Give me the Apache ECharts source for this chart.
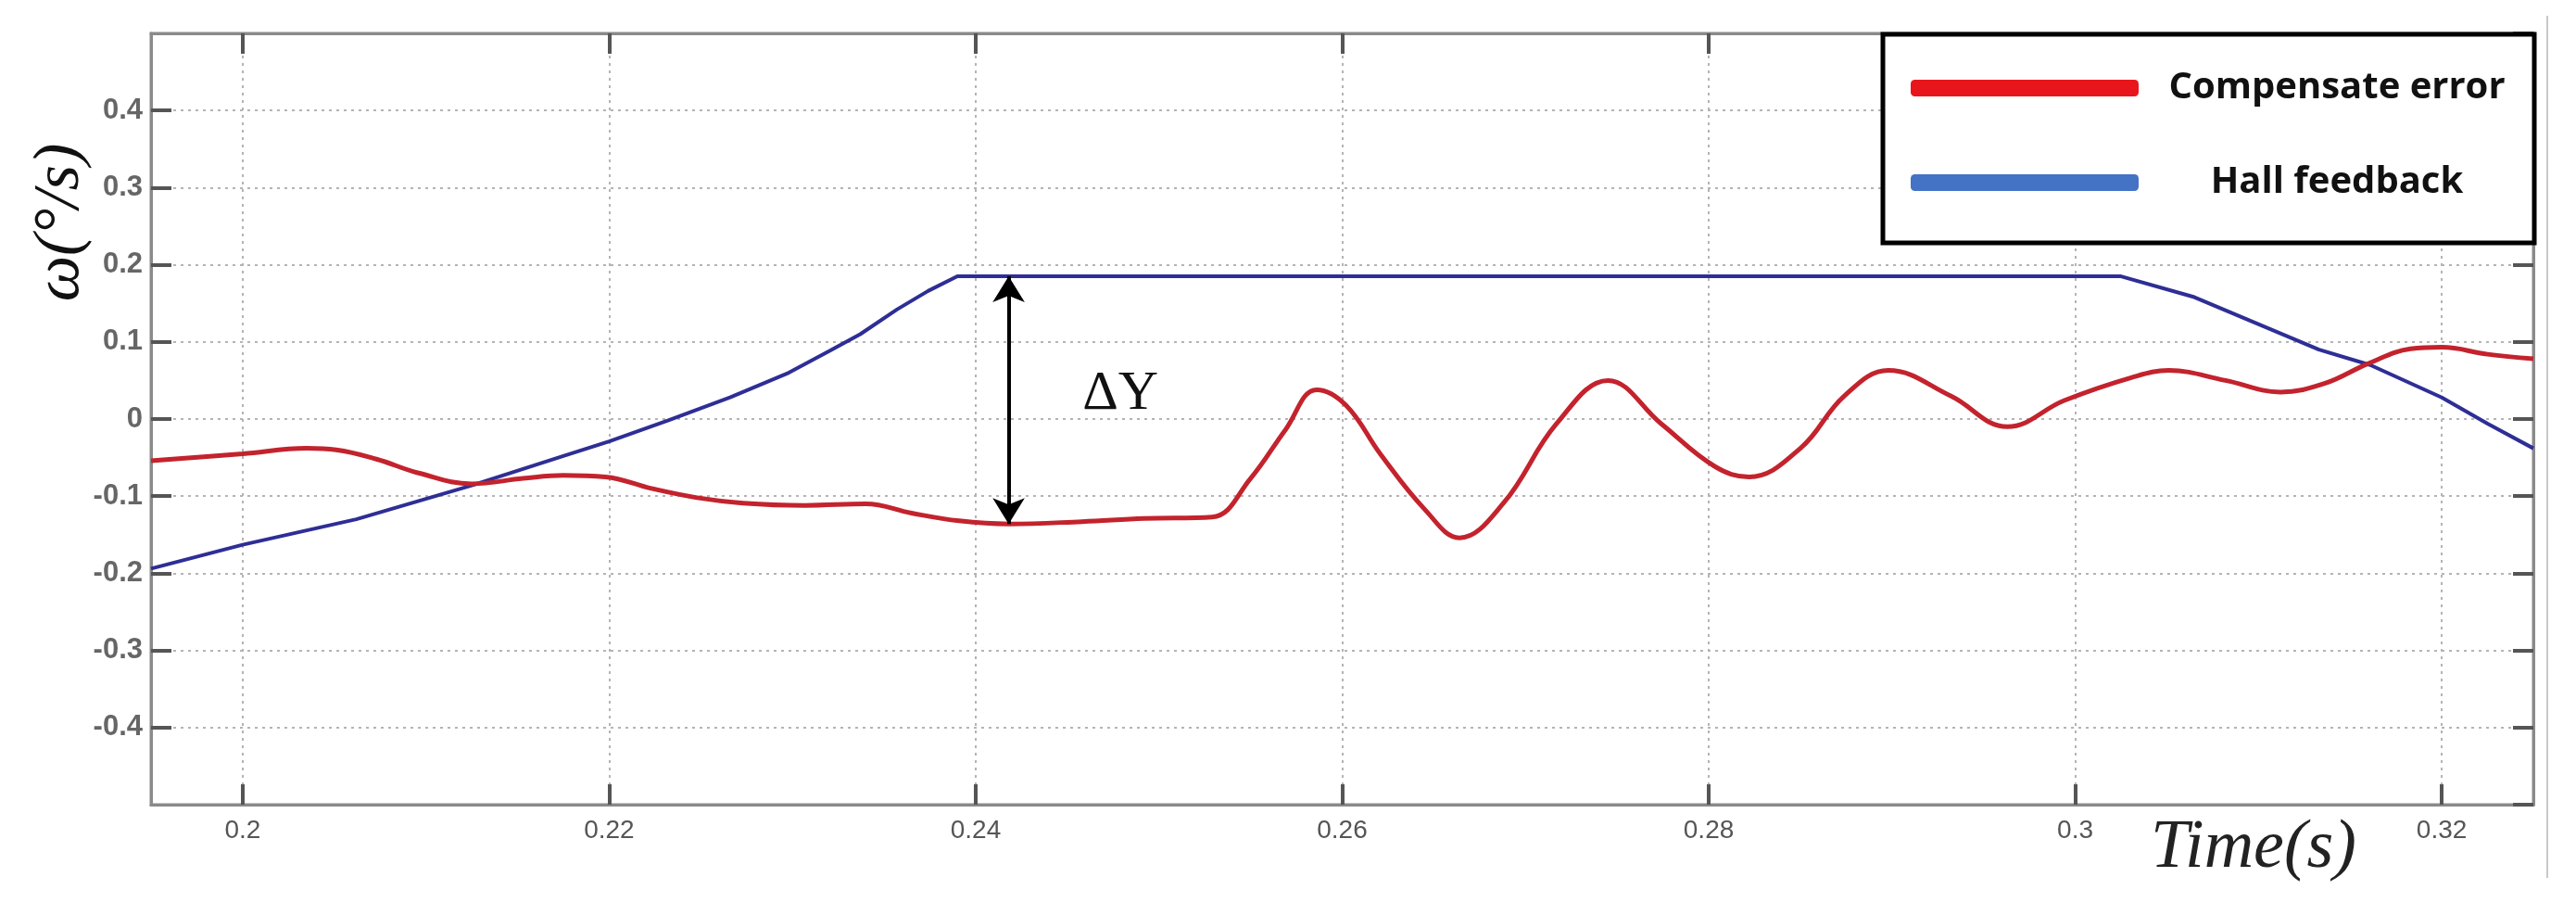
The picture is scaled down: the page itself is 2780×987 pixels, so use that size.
<!DOCTYPE html>
<html>
<head>
<meta charset="utf-8">
<script src="https://cdn.jsdelivr.net/npm/echarts@6/dist/echarts.min.js"></script>
<style>
html,body{margin:0;padding:0;background:#fff;}
#chart{width:2780px;height:987px;}
</style>
</head>
<body>
<div id="chart"></div>
<script>
// ---- data ----
const xTicks = [0.2, 0.22, 0.24, 0.26, 0.28, 0.3, 0.32];

const errT = [0.195, 0.2, 0.2035, 0.2051, 0.2073, 0.2096, 0.2125, 0.2153, 0.2175, 0.2198, 0.2223, 0.2248, 0.2273, 0.2307, 0.234, 0.2365, 0.2391, 0.2418, 0.2458, 0.2492, 0.2529, 0.255, 0.2569, 0.2586, 0.2602, 0.2621, 0.2645, 0.2664, 0.2688, 0.2717, 0.2745, 0.2774, 0.2803, 0.2822, 0.285, 0.2874, 0.2898, 0.2932, 0.2963, 0.2994, 0.3031, 0.3051, 0.3082, 0.3112, 0.3136, 0.316, 0.3183, 0.32, 0.3225, 0.325];
const errV = [-0.054, -0.045, -0.038, -0.04, -0.052, -0.07, -0.084, -0.077, -0.073, -0.075, -0.09, -0.102, -0.109, -0.112, -0.11, -0.122, -0.132, -0.136, -0.133, -0.129, -0.127, -0.077, -0.014, 0.038, 0.018, -0.046, -0.117, -0.154, -0.109, -0.006, 0.05, -0.006, -0.061, -0.075, -0.038, 0.03, 0.063, 0.03, -0.01, 0.024, 0.054, 0.063, 0.05, 0.035, 0.046, 0.072, 0.091, 0.093, 0.084, 0.078];

const hallT = [0.195, 0.2, 0.2062, 0.2125, 0.2175, 0.22, 0.2232, 0.2266, 0.2298, 0.232, 0.2337, 0.2357, 0.2374, 0.239, 0.3025, 0.3065, 0.3099, 0.3133, 0.3161, 0.32, 0.3225, 0.325];
const hallV = [-0.194, -0.163, -0.13, -0.086, -0.048, -0.029, -0.002, 0.028, 0.06, 0.088, 0.11, 0.142, 0.166, 0.185, 0.185, 0.158, 0.124, 0.09, 0.07, 0.028, -0.006, -0.038];

const seriesNames = ['Compensate error', 'Hall feedback'];
const deltaArrow = {x: 0.2418, top: 0.185, bottom: -0.136};
const deltaLabel = {x: 0.2479, y: 0.032, text: 'ΔY'};
const yAxisTitle = 'ω(°/s)';
const xAxisTitle = 'Time(s)';

const errData = errT.map((t, i) => [t, errV[i]]);
const hallData = hallT.map((t, i) => [t, hallV[i]]);

const chart = echarts.init(document.getElementById('chart'));
const gridLine = {show: true, lineStyle: {color: '#b4b4b4', width: 2, type: [3, 5]}};
const axisLine = {show: true, onZero: false, lineStyle: {color: '#8a8a8a', width: 3}};
const tick = {show: true, inside: true, length: 22, lineStyle: {color: '#555', width: 4}};

chart.setOption({
  animation: false,
  backgroundColor: '#ffffff',
  grid: {left: 163, right: 46, top: 36, bottom: 119, show: true, borderColor: '#8a8a8a', borderWidth: 3, containLabel: false},
  xAxis: [{
    type: 'value', min: 0.195, max: 0.325,
    position: 'bottom',
    axisLine: axisLine,
    axisTick: Object.assign({}, tick, {customValues: xTicks}),
    splitLine: gridLine,
    axisLabel: {
      margin: 14, color: '#555', fontSize: 28, fontFamily: 'Liberation Sans Narrow, Liberation Sans',
      customValues: xTicks,
      formatter: v => String(+v.toFixed(2))
    }
  }, {
    type: 'value', min: 0.195, max: 0.325, position: 'top',
    axisLine: axisLine, axisTick: Object.assign({}, tick, {customValues: xTicks}),
    axisLabel: {show: false}, splitLine: {show: false}
  }],
  yAxis: [{
    type: 'value', min: -0.5, max: 0.5, interval: 0.1,
    axisLine: axisLine, axisTick: tick, splitLine: gridLine,
    axisLabel: {
      margin: 9, color: '#666', fontSize: 31, fontWeight: 'bold', fontFamily: 'Liberation Sans',
      showMinLabel: false, showMaxLabel: false,
      formatter: v => (Math.abs(v) < 1e-9 ? '0' : String(+v.toFixed(1)))
    }
  }, {
    type: 'value', min: -0.5, max: 0.5, interval: 0.1, position: 'right',
    axisLine: axisLine, axisTick: tick, axisLabel: {show: false}, splitLine: {show: false}
  }],
  legend: {
    orient: 'vertical', left: 2032, top: 37,
    backgroundColor: '#fff', borderColor: '#000', borderWidth: 5,
    padding: [38, 4, 45, 30], itemGap: 62,
    itemWidth: 246, itemHeight: 18, icon: 'roundRect',
    data: [
      {name: seriesNames[0], itemStyle: {color: '#e8161c'}},
      {name: seriesNames[1], itemStyle: {color: '#4472c4'}}
    ],
    formatter: n => '{c|' + n + '}',
    textStyle: {
      rich: {c: {width: 418, align: 'center', lineHeight: 40, fontSize: 40, fontWeight: 'bold', fontFamily: 'Open Sans', color: '#111'}}
    }
  },
  series: [{
    name: seriesNames[0], type: 'line', data: errData, showSymbol: false,
    smooth: 0.4,
    lineStyle: {color: '#c3232d', width: 5}, itemStyle: {color: '#c3232d'}, z: 3
  }, {
    name: seriesNames[1], type: 'line', data: hallData, showSymbol: false,
    smooth: false,
    lineStyle: {color: '#2e2e96', width: 4}, itemStyle: {color: '#2e2e96'}, z: 2,
    markLine: {
      silent: true, symbol: ['arrow', 'arrow'], symbolSize: [26, 28],
      lineStyle: {color: '#000', width: 4, type: 'solid'}, label: {show: false},
      data: [[{coord: [deltaArrow.x, deltaArrow.top]}, {coord: [deltaArrow.x, deltaArrow.bottom]}]]
    },
    markPoint: {
      silent: true, symbol: 'circle', symbolSize: 1, itemStyle: {color: 'rgba(0,0,0,0)'},
      label: {show: true, position: 'inside', formatter: deltaLabel.text, fontSize: 60, fontFamily: 'Liberation Serif', color: '#111'},
      data: [{coord: [deltaLabel.x, deltaLabel.y]}]
    }
  }],
  graphic: [
    {type: 'text', x: 66, y: 240, rotation: Math.PI / 2,
     style: {text: yAxisTitle, font: 'italic 70px "Liberation Serif"', fill: '#111', textAlign: 'center', textVerticalAlign: 'middle'}},
    {type: 'text', x: 2432, y: 916,
     style: {text: xAxisTitle, font: 'italic 74px "Liberation Serif"', fill: '#222', textAlign: 'center', textVerticalAlign: 'middle'}},
    {type: 'line', shape: {x1: 2749, y1: 17, x2: 2749, y2: 947}, style: {stroke: '#c8c8c8', lineWidth: 2}}
  ]
});
</script>
</body>
</html>
